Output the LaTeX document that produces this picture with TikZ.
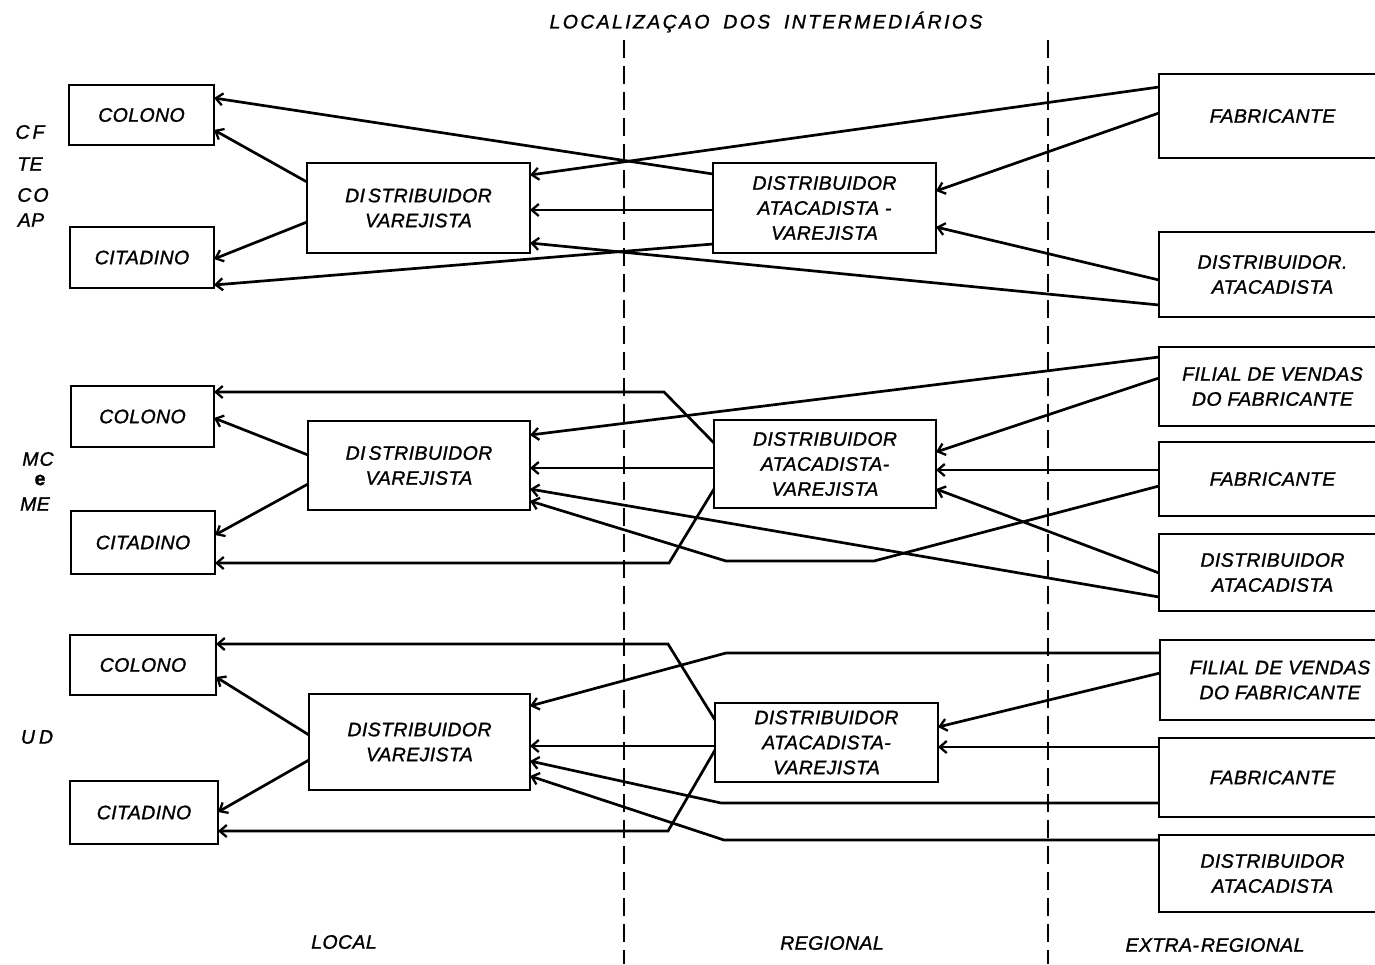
\documentclass[tikz,border=0pt]{standalone}
\usepackage{fontspec}
\setmainfont{Liberation Sans}
\newfontfamily\lblfont{Liberation Sans}[LetterSpace=2,FakeBold=1.2]
\usetikzlibrary{arrows.meta}

\begin{document}
\begin{tikzpicture}[x=1pt,y=-1pt,
  every node/.style={font=\lblfont\itshape\fontsize{19.5}{25}\selectfont},
  box/.style={draw, line width=2.8pt, inner sep=0pt, outer sep=0pt, align=center},
  link/.style={line width=2.7pt, line join=miter,
    -{Straight Barb[length=7pt,width=12pt,line width=2.3pt]}},
  zone/.style={line width=2.6pt, dash pattern=on 18pt off 8pt}]

\useasboundingbox (0,0) rectangle (1375,964);

% title and zone captions
\node (title) at (766,22) {\addfontfeature{LetterSpace=12}LOCALIZAÇAO\hspace{6pt} DOS\hspace{6pt} INTERMEDIÁRIOS};
\node (local) at (344,942) {LOCAL};
\node (regional) at (832,943) {REGIONAL};
\node (extra) at (1215,945) {EXTRA-\kern2pt REGIONAL};

% zone boundaries
\draw[zone] (624,40) -- (624,964);
\draw[zone] (1048,40) -- (1048,964);

% row captions
\node (cf) at (30,132) {C\kern3pt F};
\node (te) at (30,164) {TE};
\node (co) at (33,195) {C\kern2pt O};
\node (ap) at (31,220) {AP};
\node (mc) at (38,459) {M\kern1pt C};
\node (me-e) at (40,480) {\bfseries\upshape e};
\node (me) at (35,504) {ME};
\node (ud) at (37,737) {U\kern4pt D};

% ---------- first row: CF, TE, CO, AP ----------
\node[box, minimum width=145pt, minimum height=60pt] (col1) at (141.5,115) {COLONO};
\node[box, minimum width=144pt, minimum height=61pt] (cit1) at (142,257.5) {CITADINO};
\node[box, minimum width=223pt, minimum height=90pt] (dv1) at (418.5,208) {DI\kern3pt STRIBUIDOR\\VAREJISTA};
\node[box, minimum width=223pt, minimum height=90pt] (dav1) at (824.5,208) {DISTRIBUIDOR\\ATACADISTA -\\VAREJISTA};
\node[box, minimum width=227pt, minimum height=84pt] (fab1) at (1272.5,116) {FABRICANTE};
\node[box, minimum width=227pt, minimum height=85pt] (da1) at (1272.5,274.5) {DISTRIBUIDOR.\\ATACADISTA};

\draw[link] ([yshift=-19pt]dv1.north west) -- ([yshift=-45pt]col1.north east);
\draw[link] ([yshift=-59pt]dv1.north west) -- ([yshift=-32pt]cit1.north east);
\draw[link] ([yshift=-11pt]dav1.north west) -- ([yshift=-13pt]col1.north east);
\draw[link] ([yshift=-81pt]dav1.north west) -- ([yshift=-58pt]cit1.north east);
\draw[link] ([yshift=-47pt]dav1.north west) -- ([yshift=-47pt]dv1.north east);
\draw[link] ([yshift=-13pt]fab1.north west) -- ([yshift=-12pt]dv1.north east);
\draw[link] ([yshift=-39pt]fab1.north west) -- ([yshift=-28pt]dav1.north east);
\draw[link] ([yshift=-48pt]da1.north west) -- ([yshift=-64pt]dav1.north east);
\draw[link] ([yshift=-73pt]da1.north west) -- ([yshift=-80pt]dv1.north east);

% ---------- second row: MC e ME ----------
\node[box, minimum width=143pt, minimum height=61pt] (col2) at (142.5,416.5) {COLONO};
\node[box, minimum width=144pt, minimum height=63pt] (cit2) at (143,542.5) {CITADINO};
\node[box, minimum width=222pt, minimum height=89pt] (dv2) at (419,465.5) {DI\kern3pt STRIBUIDOR\\VAREJISTA};
\node[box, minimum width=222pt, minimum height=88pt] (dav2) at (825,464) {DISTRIBUIDOR\\ATACADISTA-\\VAREJISTA};
\node[box, minimum width=227pt, minimum height=79pt] (fil2) at (1272.5,386.5) {FILIAL DE VENDAS\\DO FABRICANTE};
\node[box, minimum width=227pt, minimum height=74pt] (fab2) at (1272.5,479) {FABRICANTE};
\node[box, minimum width=227pt, minimum height=77pt] (da2) at (1272.5,572.5) {DISTRIBUIDOR\\ATACADISTA};

\coordinate (k2a) at (664,392);
\coordinate (k2b) at (669,563);
\coordinate (k2c) at (874,561);
\coordinate (k2d) at (726,561);

\draw[link] ([yshift=-34pt]dv2.north west) -- ([yshift=-32pt]col2.north east);
\draw[link] ([yshift=-63pt]dv2.north west) -- ([yshift=-24pt]cit2.north east);
\draw[link] ([yshift=-23pt]dav2.north west) -- (k2a) -- ([yshift=-6pt]col2.north east);
\draw[link] ([yshift=-69pt]dav2.north west) -- (k2b) -- ([yshift=-52pt]cit2.north east);
\draw[link] ([yshift=-48pt]dav2.north west) -- ([yshift=-47pt]dv2.north east);
\draw[link] ([yshift=-10pt]fil2.north west) -- ([yshift=-14pt]dv2.north east);
\draw[link] ([yshift=-31pt]fil2.north west) -- ([yshift=-32pt]dav2.north east);
\draw[link] ([yshift=-28pt]fab2.north west) -- ([yshift=-50pt]dav2.north east);
\draw[link] ([yshift=-44pt]fab2.north west) -- (k2c) -- (k2d) -- ([yshift=-80pt]dv2.north east);
\draw[link] ([yshift=-39pt]da2.north west) -- ([yshift=-69pt]dav2.north east);
\draw[link] ([yshift=-63pt]da2.north west) -- ([yshift=-68pt]dv2.north east);

% ---------- third row: UD ----------
\node[box, minimum width=146pt, minimum height=60pt] (col3) at (143,665) {COLONO};
\node[box, minimum width=148pt, minimum height=63pt] (cit3) at (144,812.5) {CITADINO};
\node[box, minimum width=221pt, minimum height=96pt] (dv3) at (419.5,742) {DISTRIBUIDOR\\VAREJISTA};
\node[box, minimum width=223pt, minimum height=79pt] (dav3) at (826.5,742.5) {DISTRIBUIDOR\\ATACADISTA-\\VAREJISTA};
\node[box, minimum width=240pt, minimum height=80pt] (fil3) at (1280,680) {FILIAL DE VENDAS\\DO FABRICANTE};
\node[box, minimum width=227pt, minimum height=79pt] (fab3) at (1272.5,777.5) {FABRICANTE};
\node[box, minimum width=227pt, minimum height=77pt] (da3) at (1272.5,873.5) {DISTRIBUIDOR\\ATACADISTA};

\coordinate (k3a) at (668,644);
\coordinate (k3b) at (668,831);
\coordinate (k3c) at (726,653);
\coordinate (k3d) at (721,803);
\coordinate (k3e) at (724,840);

\draw[link] ([yshift=-41pt]dv3.north west) -- ([yshift=-42pt]col3.north east);
\draw[link] ([yshift=-66pt]dv3.north west) -- ([yshift=-31pt]cit3.north east);
\draw[link] ([yshift=-17pt]dav3.north west) -- (k3a) -- ([yshift=-9pt]col3.north east);
\draw[link] ([yshift=-47pt]dav3.north west) -- (k3b) -- ([yshift=-50pt]cit3.north east);
\draw[link] ([yshift=-43pt]dav3.north west) -- ([yshift=-52pt]dv3.north east);
\draw[link] ([yshift=-13pt]fil3.north west) -- (k3c) -- ([yshift=-12pt]dv3.north east);
\draw[link] ([yshift=-33pt]fil3.north west) -- ([yshift=-24pt]dav3.north east);
\draw[link] ([yshift=-9pt]fab3.north west) -- ([yshift=-44pt]dav3.north east);
\draw[link] ([yshift=-65pt]fab3.north west) -- (k3d) -- ([yshift=-67pt]dv3.north east);
\draw[link] ([yshift=-5pt]da3.north west) -- (k3e) -- ([yshift=-82pt]dv3.north east);

\end{tikzpicture}
\end{document}
